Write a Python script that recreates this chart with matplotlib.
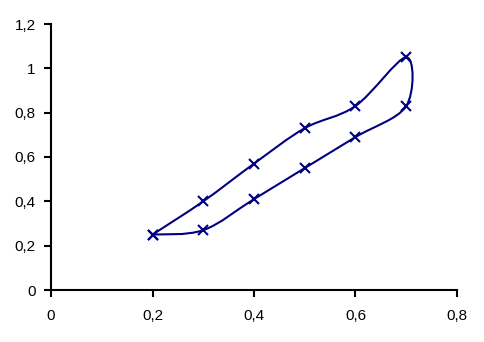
import matplotlib
matplotlib.use('Agg')
import matplotlib.pyplot as plt
from matplotlib.path import Path
from matplotlib.patches import PathPatch
import numpy as np

plt.rcParams['font.family'] = ['Liberation Sans', 'DejaVu Sans']

# loop: lower branch going right, upper branch coming back
x_vals = [0.2, 0.3, 0.4, 0.5, 0.6, 0.7, 0.7, 0.6, 0.5, 0.4, 0.3, 0.2]
y_vals = [0.25, 0.27, 0.41, 0.55, 0.69, 0.83, 1.05, 0.83, 0.73, 0.57, 0.40, 0.25]
x_ticks = [0, 0.2, 0.4, 0.6, 0.8]
x_labels = ['0', '0,2', '0,4', '0,6', '0,8']
y_ticks = [0, 0.2, 0.4, 0.6, 0.8, 1, 1.2]
y_labels = ['0', '0,2', '0,4', '0,6', '0,8', '1', '1,2']

color = '#000080'

fig = plt.figure(figsize=(4.85, 3.42), dpi=100)
ax = fig.add_axes([51/485, 52/342, 406/485, 266/342])

# smoothed line (Catmull-Rom style bezier like spreadsheet "smoothed line")
pts = np.column_stack([x_vals, y_vals])
n = len(pts)
verts = [pts[0]]
codes = [Path.MOVETO]
for i in range(n - 1):
    p0 = pts[i - 1] if i > 0 else pts[i]
    p1 = pts[i]
    p2 = pts[i + 1]
    p3 = pts[i + 2] if i + 2 < n else pts[i + 1]
    c1 = p1 + (p2 - p0) / 6.0
    c2 = p2 - (p3 - p1) / 6.0
    verts += [c1, c2, p2]
    codes += [Path.CURVE4] * 3
ax.add_patch(PathPatch(Path(verts, codes), facecolor='none', edgecolor=color, lw=1.5))
ax.plot(x_vals, y_vals, linestyle='none', marker='x', color=color, markersize=7, markeredgewidth=1.5)

ax.set_xlim(0, 0.8)
ax.set_ylim(0, 1.2)
ax.set_xticks(x_ticks)
ax.set_xticklabels(x_labels)
ax.set_yticks(y_ticks)
ax.set_yticklabels(y_labels)
for s in ['top', 'right']:
    ax.spines[s].set_visible(False)
for s in ['left', 'bottom']:
    ax.spines[s].set_linewidth(1.5)
ax.tick_params(axis='both', direction='out', length=5, width=1.5, labelsize=11)
ax.tick_params(axis='x', pad=9)
ax.tick_params(axis='y', pad=6)

fig.savefig('out.png', dpi=100)
